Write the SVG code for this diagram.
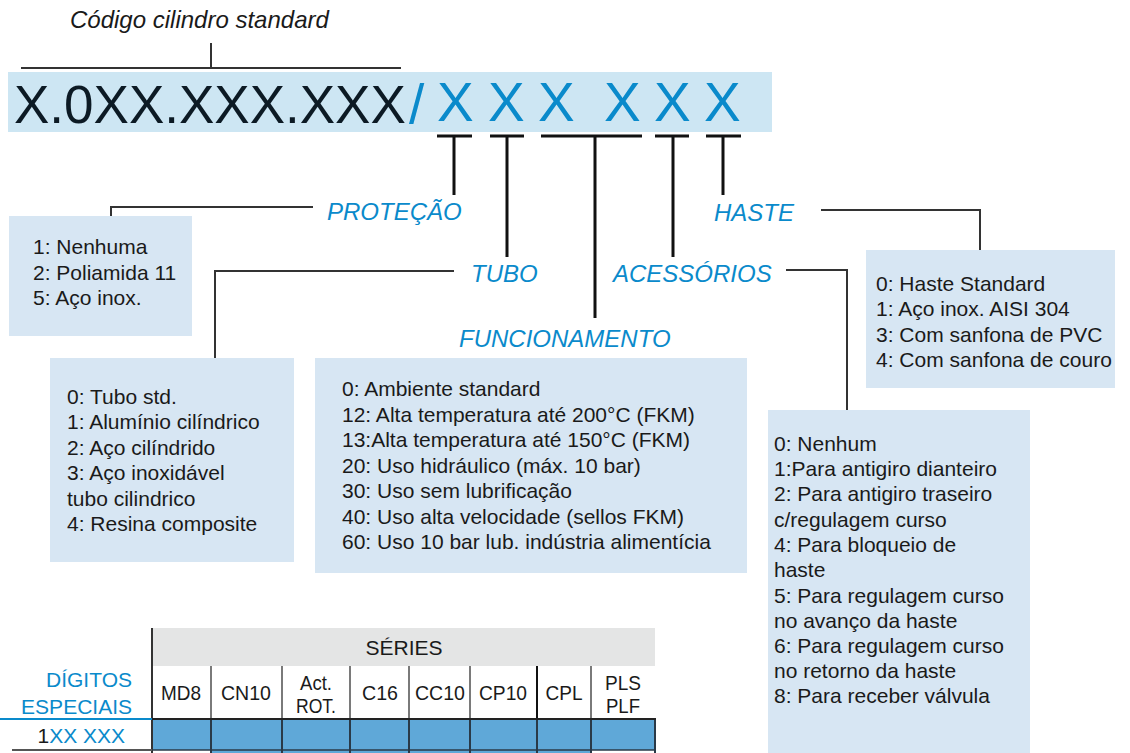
<svg xmlns="http://www.w3.org/2000/svg" width="1130" height="753" viewBox="0 0 1130 753">
<style>
.t{font-family:"Liberation Sans",Arial,sans-serif;font-size:21px;fill:#1a1a1a}
.lbl{font-family:"Liberation Sans",Arial,sans-serif;font-size:24px;font-style:italic;fill:#0a8acb}
.big{font-family:"Liberation Sans",Arial,sans-serif;font-size:55px}
.box{fill:#d7e6f3}
.k{stroke:#111;stroke-width:3;fill:none}
.c{stroke:#333;stroke-width:2;fill:none}
.th{font-family:"Liberation Sans",Arial,sans-serif;font-size:21px;fill:#1a1a1a;text-anchor:middle}
.bl{fill:#0a8acb}
.vg{stroke:#7a7a7a;stroke-width:2}
.vd{stroke:#2a3a48;stroke-width:2}
</style>
<rect width="1130" height="753" fill="#fff"/>
<g id="code">
<text class="lbl" x="70" y="28" style="fill:#1a1a1a">Código cilindro standard</text>
<rect x="8" y="72" width="764" height="60" fill="#cde6f3"/>
<text class="big" x="14" y="123" fill="#0c1a24" style="font-size:53px">X.0XX.XXX.XXX</text>
<text class="big bl" x="409" y="123">/</text>
<text class="big bl" x="437" y="121">X</text>
<text class="big bl" x="488" y="121">X</text>
<text class="big bl" x="538" y="121">X</text>
<text class="big bl" x="604" y="121">X</text>
<text class="big bl" x="654" y="121">X</text>
<text class="big bl" x="704" y="121">X</text>
</g>
<g id="connectors">
<path class="c" d="M21 68H401M211 43V68"/>
<path class="k" d="M437 136H472M454 136V195M490 136H524M507 136V257M541 136H642M595 136V318M655 136H689M673 136V257M706 136H741M723 136V195"/>
<path class="c" d="M313 207H111V216"/>
<path class="c" d="M454 271H215V358"/>
<path class="c" d="M821 210H980V250"/>
<path class="c" d="M786 270H847V410"/>
</g>
<g id="protecao">
<text class="lbl" x="327" y="220">PROTEÇÃO</text>
<rect class="box" x="9" y="216" width="183" height="120"/>
<text class="t" x="33" y="254">1: Nenhuma</text>
<text class="t" x="33" y="280">2: Poliamida 11</text>
<text class="t" x="33" y="305">5: Aço inox.</text>
</g>
<g id="tubo">
<text class="lbl" x="471" y="282">TUBO</text>
<rect class="box" x="50" y="358" width="244" height="204"/>
<text class="t" x="67" y="404">0: Tubo std.</text>
<text class="t" x="67" y="429">1: Alumínio cilíndrico</text>
<text class="t" x="67" y="455">2: Aço cilíndrido</text>
<text class="t" x="67" y="480">3: Aço inoxidável</text>
<text class="t" x="67" y="506">tubo cilindrico</text>
<text class="t" x="67" y="531">4: Resina composite</text>
</g>
<g id="funcionamento">
<text class="lbl" x="459" y="347">FUNCIONAMENTO</text>
<rect class="box" x="315" y="358" width="432" height="215"/>
<text class="t" x="342" y="396">0: Ambiente standard</text>
<text class="t" x="342" y="422">12: Alta temperatura até 200°C (FKM)</text>
<text class="t" x="342" y="447">13:Alta temperatura até 150°C (FKM)</text>
<text class="t" x="342" y="473">20: Uso hidráulico (máx. 10 bar)</text>
<text class="t" x="342" y="498">30: Uso sem lubrificação</text>
<text class="t" x="342" y="524">40: Uso alta velocidade (sellos FKM)</text>
<text class="t" x="342" y="549">60: Uso 10 bar lub. indústria alimentícia</text>
</g>
<g id="acessorios">
<text class="lbl" x="613" y="282">ACESSÓRIOS</text>
<rect class="box" x="768" y="410" width="262" height="343"/>
<text class="t" x="774" y="451">0: Nenhum</text>
<text class="t" x="774" y="476">1:Para antigiro dianteiro</text>
<text class="t" x="774" y="501">2: Para antigiro traseiro</text>
<text class="t" x="774" y="527">c/regulagem curso</text>
<text class="t" x="774" y="552">4: Para bloqueio de</text>
<text class="t" x="774" y="577">haste</text>
<text class="t" x="774" y="603">5: Para regulagem curso</text>
<text class="t" x="774" y="628">no avanço da haste</text>
<text class="t" x="774" y="653">6: Para regulagem curso</text>
<text class="t" x="774" y="678">no retorno da haste</text>
<text class="t" x="774" y="703">8: Para receber válvula</text>
</g>
<g id="haste">
<text class="lbl" x="714" y="221">HASTE</text>
<rect class="box" x="866" y="250" width="249" height="138"/>
<text class="t" x="876" y="291">0: Haste Standard</text>
<text class="t" x="876" y="316">1: Aço inox. AISI 304</text>
<text class="t" x="876" y="342">3: Com sanfona de PVC</text>
<text class="t" x="876" y="367">4: Com sanfona de couro</text>
</g>
<g id="table">
<rect x="152" y="628" width="503" height="38" fill="#e4e5e5"/>
<text class="th" x="404" y="655">SÉRIES</text>
<rect x="152" y="719" width="503" height="31" fill="#5fa8d8"/>
<rect x="212" y="750" width="380" height="3" fill="#5fa8d8"/>
<g>
<line class="vg" x1="211" y1="666" x2="211" y2="719"/>
<line class="vg" x1="282" y1="666" x2="282" y2="719"/>
<line class="vg" x1="350" y1="666" x2="350" y2="719"/>
<line class="vg" x1="409" y1="666" x2="409" y2="719"/>
<line class="vg" x1="470" y1="666" x2="470" y2="719"/>
<line x1="537" y1="666" x2="537" y2="719" stroke="#111" stroke-width="2"/>
<line class="vg" x1="591" y1="666" x2="591" y2="719"/>
<line class="vd" x1="211" y1="719" x2="211" y2="753"/>
<line class="vd" x1="282" y1="719" x2="282" y2="753"/>
<line class="vd" x1="350" y1="719" x2="350" y2="753"/>
<line class="vd" x1="409" y1="719" x2="409" y2="753"/>
<line class="vd" x1="470" y1="719" x2="470" y2="753"/>
<line class="vd" x1="537" y1="719" x2="537" y2="753"/>
<line class="vd" x1="591" y1="719" x2="591" y2="753"/>
<line class="vd" x1="655" y1="719" x2="655" y2="753"/>
<line x1="152" y1="628" x2="152" y2="753" stroke="#333" stroke-width="2"/>
<line x1="152" y1="719" x2="656" y2="719" stroke="#222" stroke-width="2"/>
<line x1="152" y1="750" x2="656" y2="750" stroke="#2a3a48" stroke-width="1.5"/>
<line x1="0" y1="719" x2="152" y2="719" stroke="#0a8acb" stroke-width="2"/>
<line x1="12" y1="750" x2="152" y2="750" stroke="#555" stroke-width="2"/>
</g>
<text class="th" x="181" y="700" textLength="40" lengthAdjust="spacingAndGlyphs">MD8</text>
<text class="th" x="246" y="700" textLength="50" lengthAdjust="spacingAndGlyphs">CN10</text>
<text class="th" x="316" y="690" textLength="32" lengthAdjust="spacingAndGlyphs">Act.</text>
<text class="th" x="316" y="713" textLength="40" lengthAdjust="spacingAndGlyphs">ROT.</text>
<text class="th" x="380" y="700" textLength="36" lengthAdjust="spacingAndGlyphs">C16</text>
<text class="th" x="440" y="700" textLength="50" lengthAdjust="spacingAndGlyphs">CC10</text>
<text class="th" x="503" y="700" textLength="48" lengthAdjust="spacingAndGlyphs">CP10</text>
<text class="th" x="564" y="700" textLength="37" lengthAdjust="spacingAndGlyphs">CPL</text>
<text class="th" x="623" y="690" textLength="36" lengthAdjust="spacingAndGlyphs">PLS</text>
<text class="th" x="623" y="713" textLength="34" lengthAdjust="spacingAndGlyphs">PLF</text>
<text class="th bl" x="132" y="687" style="text-anchor:end">DÍGITOS</text>
<text class="th bl" x="132" y="714" style="text-anchor:end">ESPECIAIS</text>
<text class="th" x="125" y="743" style="text-anchor:end">1<tspan class="bl">XX XXX</tspan></text>
</g>
</svg>
